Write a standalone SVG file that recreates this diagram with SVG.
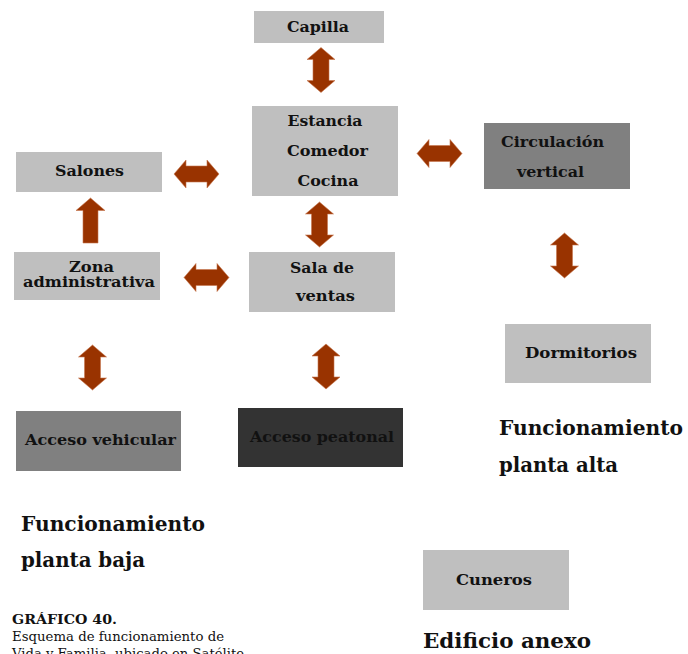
<svg xmlns="http://www.w3.org/2000/svg" xmlns:xlink="http://www.w3.org/1999/xlink" width="688" height="654" viewBox="0 0 688 654">
<style>
.lbl{font-family:"DejaVu Serif","Liberation Serif",serif;font-weight:bold;font-size:15px;fill:#111;text-anchor:middle}
.ttl{font-family:"DejaVu Serif","Liberation Serif",serif;font-weight:bold;font-size:20px;fill:#111}
.cap{font-family:"DejaVu Serif","Liberation Serif",serif;font-size:13px;fill:#111}
.lt{fill:#bfbfbf}
.md{fill:#808080}
.dk{fill:#333333}
.arr{fill:#993300;stroke:#c8774f;stroke-width:0.6}
</style>
<defs>
<path id="vd" d="M0,-22.5 L14,-10.5 L8,-10.5 L8,10.5 L14,10.5 L0,22.5 L-14,10.5 L-8,10.5 L-8,-10.5 L-14,-10.5 Z"/>
</defs>
<rect width="688" height="654" fill="#fff"/>
<g id="connectors">
<use href="#vd" xlink:href="#vd" class="arr" transform="translate(321,70)"/>
<use href="#vd" xlink:href="#vd" class="arr" transform="translate(319.5,224.5)"/>
<use href="#vd" xlink:href="#vd" class="arr" transform="translate(326,366.5)"/>
<use href="#vd" xlink:href="#vd" class="arr" transform="translate(92.5,367.5)"/>
<use href="#vd" xlink:href="#vd" class="arr" transform="translate(564.5,255.5)"/>
<use href="#vd" xlink:href="#vd" class="arr" transform="translate(196.5,174) rotate(90)"/>
<use href="#vd" xlink:href="#vd" class="arr" transform="translate(206.5,277.5) rotate(90)"/>
<use href="#vd" xlink:href="#vd" class="arr" transform="translate(439.5,153.5) rotate(90)"/>
<path class="arr" d="M90.5,198 L105,210.5 L98,210.5 L98,243 L83,243 L83,210.5 L76,210.5 Z"/>
</g>
<g id="capilla"><rect class="lt" x="254" y="11" width="130" height="32"/><text class="lbl" x="318" y="32" textLength="62" lengthAdjust="spacingAndGlyphs">Capilla</text></g>
<g id="estancia"><rect class="lt" x="252" y="106" width="146" height="90"/>
<text class="lbl" x="325" y="126" textLength="75" lengthAdjust="spacingAndGlyphs">Estancia</text>
<text class="lbl" x="327.5" y="156" textLength="81" lengthAdjust="spacingAndGlyphs">Comedor</text>
<text class="lbl" x="328" y="186" textLength="61" lengthAdjust="spacingAndGlyphs">Cocina</text></g>
<g id="salones"><rect class="lt" x="16" y="152" width="146" height="40"/><text class="lbl" x="89.5" y="176" textLength="69" lengthAdjust="spacingAndGlyphs">Salones</text></g>
<g id="zona"><rect class="lt" x="14" y="252" width="146" height="48"/>
<text class="lbl" x="91.5" y="272" textLength="45" lengthAdjust="spacingAndGlyphs">Zona</text>
<text class="lbl" x="89" y="287" textLength="132" lengthAdjust="spacingAndGlyphs">administrativa</text></g>
<g id="sala"><rect class="lt" x="249" y="252" width="146" height="60"/>
<text class="lbl" x="322" y="273" textLength="64" lengthAdjust="spacingAndGlyphs">Sala de</text>
<text class="lbl" x="325.5" y="301" textLength="59" lengthAdjust="spacingAndGlyphs">ventas</text></g>
<g id="circulacion"><rect class="md" x="484" y="123" width="146" height="66"/>
<text class="lbl" x="552.5" y="147" textLength="103" lengthAdjust="spacingAndGlyphs">Circulación</text>
<text class="lbl" x="550.5" y="177" textLength="67" lengthAdjust="spacingAndGlyphs">vertical</text></g>
<g id="dormitorios"><rect class="lt" x="505" y="324" width="146" height="59"/><text class="lbl" x="581" y="358" textLength="112" lengthAdjust="spacingAndGlyphs">Dormitorios</text></g>
<g id="vehicular"><rect class="md" x="16" y="411" width="165" height="60"/><text class="lbl" x="100.5" y="445" textLength="151" lengthAdjust="spacingAndGlyphs">Acceso vehicular</text></g>
<g id="peatonal"><rect class="dk" x="238" y="408" width="165" height="59"/><text class="lbl" x="322" y="442" textLength="144" lengthAdjust="spacingAndGlyphs">Acceso peatonal</text></g>
<g id="cuneros"><rect class="lt" x="423" y="550" width="146" height="60"/><text class="lbl" x="494" y="585" font-size="14" textLength="76" lengthAdjust="spacingAndGlyphs">Cuneros</text></g>
<g id="titulos">
<text class="ttl" x="21" y="531" textLength="184" lengthAdjust="spacingAndGlyphs">Funcionamiento</text>
<text class="ttl" x="21" y="567" textLength="124" lengthAdjust="spacingAndGlyphs">planta baja</text>
<text class="ttl" x="499" y="435" textLength="184" lengthAdjust="spacingAndGlyphs">Funcionamiento</text>
<text class="ttl" x="499" y="472" textLength="119" lengthAdjust="spacingAndGlyphs">planta alta</text>
<text class="ttl" x="423" y="648" textLength="168" lengthAdjust="spacingAndGlyphs">Edificio anexo</text>
<text class="cap" x="12" y="624" font-weight="bold" textLength="105" lengthAdjust="spacingAndGlyphs">GRÁFICO 40.</text>
<text class="cap" x="12" y="641" textLength="212" lengthAdjust="spacingAndGlyphs">Esquema de funcionamiento de</text>
<text class="cap" x="12" y="658" textLength="232" lengthAdjust="spacingAndGlyphs">Vida y Familia, ubicado en Satélite</text>
</g>
</svg>
